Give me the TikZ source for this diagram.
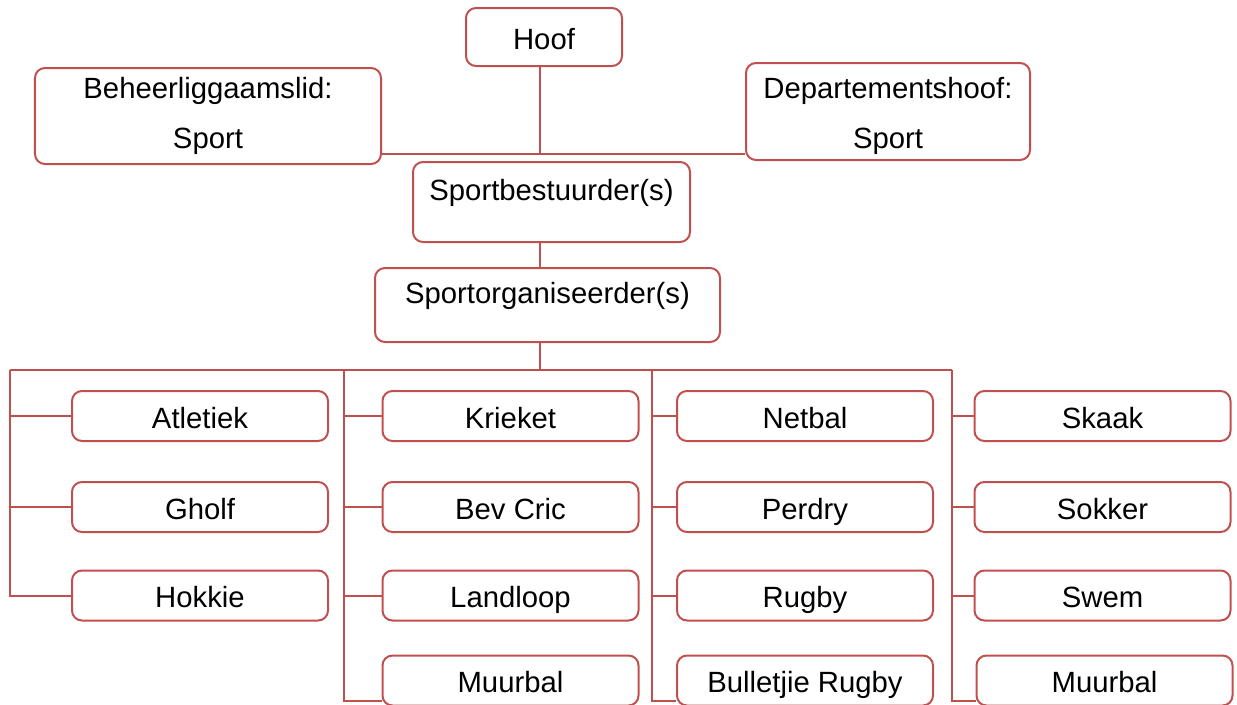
\documentclass[tikz,border=0pt]{standalone}
\usepackage{fontspec}
\setmainfont{Liberation Sans}
\definecolor{orgred}{RGB}{192,80,77}

\begin{document}
\begin{tikzpicture}[
  orgbox/.style={draw=orgred, line width=.03cm, rounded corners=.15cm, align=center, inner sep=0, font=\fontsize{12.5}{21.3}\selectfont},
  sportbox/.style={orgbox, minimum width=3.84cm, minimum height=.75cm, text height=.4cm, text depth=.03cm},
  topbox/.style={orgbox, text height=.35cm, text depth=.4cm},
  link/.style={draw=orgred, line width=.03cm}
]

\useasboundingbox (0,0) rectangle (18.555cm,-10.56cm);

%-----------------------------------------------------
\node (hoof) at(8.16cm,-.555cm) [sportbox, minimum width=2.34cm, minimum height=.87cm] {Hoof};
\node (beheer) at(3.12cm,-1.74cm) [orgbox, minimum width=5.19cm, minimum height=1.44cm] {Beheerliggaamslid:\\Sport};
\node (dept) at(13.32cm,-1.6725cm) [orgbox, minimum width=4.26cm, minimum height=1.455cm] {\rule{0pt}{.46cm}Departementshoof:\\Sport};
\node (bestuur) at(8.2725cm,-3.03cm) [topbox, minimum width=4.155cm, minimum height=1.2cm] {Sportbestuurder(s)};
\node (organ) at(8.2125cm,-4.575cm) [topbox, minimum width=5.175cm, minimum height=1.11cm] {Sportorganiseerder(s)};

\coordinate (hub) at(8.1cm,-2.31cm);
\coordinate (fork) at(8.1cm,-5.55cm);
\coordinate (col1) at(.15cm,-5.55cm);
\coordinate (col2) at(5.16cm,-5.55cm);
\coordinate (col3) at(9.78cm,-5.55cm);
\coordinate (col4) at(14.28cm,-5.55cm);

\draw [link] (hoof.south -| hub) -- (hub);
\draw [link] (hub -| beheer.east) -- (hub -| dept.west);
\draw [link] (bestuur.south -| hub) -- (organ.north -| hub);
\draw [link] (organ.south -| fork) -- (fork);
\draw [link] (col1) -- (col4);

%-----------------------------------------------------
\node (atletiek) at(3cm,-6.24cm) [sportbox] {Atletiek};
\node (gholf) at(3cm,-7.605cm) [sportbox] {Gholf};
\node (hokkie) at(3cm,-8.9325cm) [sportbox] {Hokkie};

\draw [link] (col1) |- (atletiek.west);
\draw [link] (col1) |- (gholf.west);
\draw [link] (col1) |- (hokkie.west);

%-----------------------------------------------------
\node (krieket) at(7.6575cm,-6.24cm) [sportbox] {Krieket};
\node (bevcric) at(7.6575cm,-7.605cm) [sportbox] {Bev Cric};
\node (landloop) at(7.6575cm,-8.9325cm) [sportbox] {Landloop};
\node (muurbal1) at(7.6575cm,-10.2075cm) [sportbox] {Muurbal};

\draw [link] (col2) |- (krieket.west);
\draw [link] (col2) |- (bevcric.west);
\draw [link] (col2) |- (landloop.west);
\draw [link] (col2) |- ([yshift=.09cm]muurbal1.south west);

%-----------------------------------------------------
\node (netbal) at(12.075cm,-6.24cm) [sportbox] {Netbal};
\node (perdry) at(12.075cm,-7.605cm) [sportbox] {Perdry};
\node (rugby) at(12.075cm,-8.9325cm) [sportbox] {Rugby};
\node (bulletjie) at(12.075cm,-10.2075cm) [sportbox] {Bulletjie Rugby};

\draw [link] (col3) |- (netbal.west);
\draw [link] (col3) |- (perdry.west);
\draw [link] (col3) |- (rugby.west);
\draw [link] (col3) |- ([yshift=.09cm]bulletjie.south west);

%-----------------------------------------------------
\node (skaak) at(16.5375cm,-6.24cm) [sportbox] {Skaak};
\node (sokker) at(16.5375cm,-7.605cm) [sportbox] {Sokker};
\node (swem) at(16.5375cm,-8.9325cm) [sportbox] {Swem};
\node (muurbal2) at(16.5675cm,-10.2075cm) [sportbox] {Muurbal};

\draw [link] (col4) |- (skaak.west);
\draw [link] (col4) |- (sokker.west);
\draw [link] (col4) |- (swem.west);
\draw [link] (col4) |- ([yshift=.09cm]muurbal2.south west);

\end{tikzpicture}
\end{document}
